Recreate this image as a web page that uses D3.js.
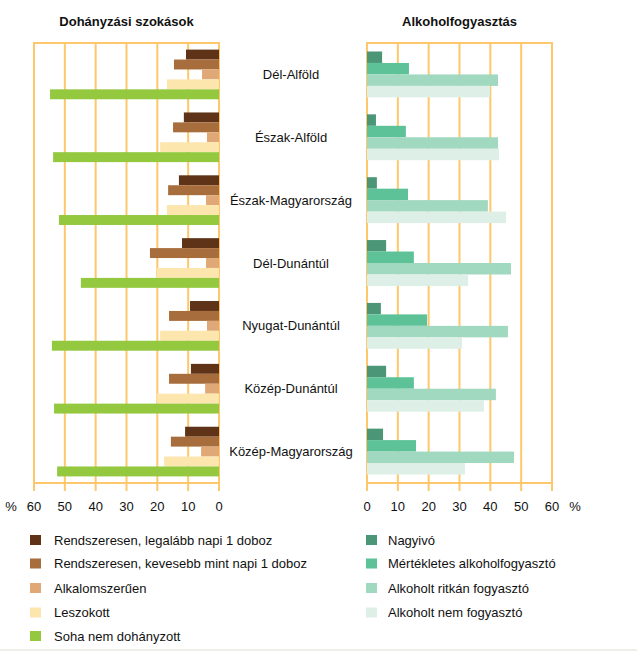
<!DOCTYPE html>
<html><head><meta charset="utf-8">
<script src="https://cdn.jsdelivr.net/npm/d3@7"></script>
<style>body{margin:0;background:#fff}svg{display:block;font-family:"Liberation Sans",Arial,sans-serif}</style>
</head><body>
<script>
const regions = ["Dél-Alföld","Észak-Alföld","Észak-Magyarország","Dél-Dunántúl","Nyugat-Dunántúl","Közép-Dunántúl","Közép-Magyarország"];
const smokeSeries = ["Rendszeresen, legalább napi 1 doboz","Rendszeresen, kevesebb mint napi 1 doboz","Alkalomszerűen","Leszokott","Soha nem dohányzott"];
const smokeDaily   = [10.7,11.4,13.0,12.0,9.4,9.1,11.0];
const smokeRegular = [14.6,14.9,16.5,22.4,16.2,16.2,15.6];
const smokeOccas   = [5.5,3.9,4.2,4.2,3.9,4.5,5.8];
const smokeQuit    = [16.9,19.1,16.9,20.1,19.1,20.1,17.8];
const smokeNever   = [54.8,53.8,51.9,44.8,54.2,53.5,52.5];
const alcSeries = ["Nagyivó","Mértékletes alkoholfogyasztó","Alkoholt ritkán fogyasztó","Alkoholt nem fogyasztó"];
const alcHeavy    = [4.9,2.9,3.2,6.2,4.5,6.2,5.2];
const alcModerate = [13.6,12.6,13.3,15.2,19.5,15.2,15.9];
const alcRare     = [42.5,42.5,39.2,46.7,45.7,41.8,47.7];
const alcNone     = [39.9,42.8,45.1,32.8,30.8,37.9,31.8];
const tickValues = [0,10,20,30,40,50,60];
const smokeColors = ["#5f3318","#a86d3c","#e0a877","#fde6ae","#93c83f"];
const alcColors = ["#4a9677","#5dc298","#a0d8c0","#ddefe6"];
const gridColor = "#fec76b";

const smokeData = [smokeDaily, smokeRegular, smokeOccas, smokeQuit, smokeNever];
const alcData = [alcHeavy, alcModerate, alcRare, alcNone];

const W = 637, H = 651;
const svg = d3.select("body").append("svg").attr("width", W).attr("height", H);

const plotTop = 43, plotBottom = 483;
const xL = d3.scaleLinear().domain([60,0]).range([34,219]);
const xR = d3.scaleLinear().domain([0,60]).range([367,552]);

function panel(x, data, colors, pad, title) {
  const y0 = d3.scaleBand().domain(regions).range([plotTop, plotBottom]).paddingInner(pad).paddingOuter(pad/2);
  const y1 = d3.scaleBand().domain(d3.range(data.length)).range([0, y0.bandwidth()]);
  const g = svg.append("g");
  g.selectAll("line.grid").data(tickValues).join("line")
    .attr("x1", d => x(d)).attr("x2", d => x(d)).attr("y1", plotTop).attr("y2", plotBottom + 8)
    .attr("stroke", gridColor).attr("stroke-width", 2);
  g.append("line").attr("x1", x.range()[0]-1).attr("x2", x.range()[1]+1).attr("y1", plotTop).attr("y2", plotTop)
    .attr("stroke", gridColor).attr("stroke-width", 2);
  g.append("line").attr("x1", x.range()[0]-1).attr("x2", x.range()[1]+1).attr("y1", plotBottom).attr("y2", plotBottom)
    .attr("stroke", gridColor).attr("stroke-width", 2);
  data.forEach((ser, si) => {
    g.selectAll(null).data(ser).join("rect")
      .attr("x", d => Math.min(x(0), x(d)))
      .attr("width", d => Math.abs(x(d) - x(0)))
      .attr("y", (d, i) => y0(regions[i]) + y1(si))
      .attr("height", y1.bandwidth())
      .attr("fill", colors[si]);
  });
  g.selectAll("text.tick").data(tickValues).join("text")
    .attr("x", d => x(d)).attr("y", 511).attr("text-anchor", "middle")
    .attr("font-size", 13).attr("fill", "#111").text(d => d);
  const mid = (x.range()[0] + x.range()[1]) / 2;
  g.append("text").attr("x", mid).attr("y", 26).attr("text-anchor", "middle")
    .attr("font-size", 13).attr("font-weight", "bold").attr("fill", "#111").text(title);
  return y0;
}

const yb = panel(xL, smokeData, smokeColors, 0.21, "Dohányzási szokások");
panel(xR, alcData, alcColors, 0.27, "Alkoholfogyasztás");

svg.append("text").attr("x", 11).attr("y", 511).attr("text-anchor", "middle").attr("font-size", 13).attr("fill", "#111").text("%");
svg.append("text").attr("x", 575).attr("y", 511).attr("text-anchor", "middle").attr("font-size", 13).attr("fill", "#111").text("%");

svg.selectAll("text.cat").data(regions).join("text")
  .attr("x", 291).attr("y", d => yb(d) + yb.bandwidth()/2 + 4.5)
  .attr("text-anchor", "middle").attr("font-size", 13).attr("fill", "#111").text(d => d);

const legY = [540, 563.5, 588, 612.5, 636];
smokeSeries.forEach((s, i) => {
  svg.append("rect").attr("x", 30).attr("y", legY[i]-5).attr("width", 11).attr("height", 10).attr("fill", smokeColors[i]);
  svg.append("text").attr("x", 54).attr("y", legY[i]+4.5).attr("font-size", 13).attr("fill", "#111").text(s);
});
alcSeries.forEach((s, i) => {
  svg.append("rect").attr("x", 366).attr("y", legY[i]-5).attr("width", 11).attr("height", 10).attr("fill", alcColors[i]);
  svg.append("text").attr("x", 388).attr("y", legY[i]+4.5).attr("font-size", 13).attr("fill", "#111").text(s);
});
svg.append("rect").attr("x", 0).attr("y", 649).attr("width", W).attr("height", 2).attr("fill", "#efefe9");
</script>
</body></html>
